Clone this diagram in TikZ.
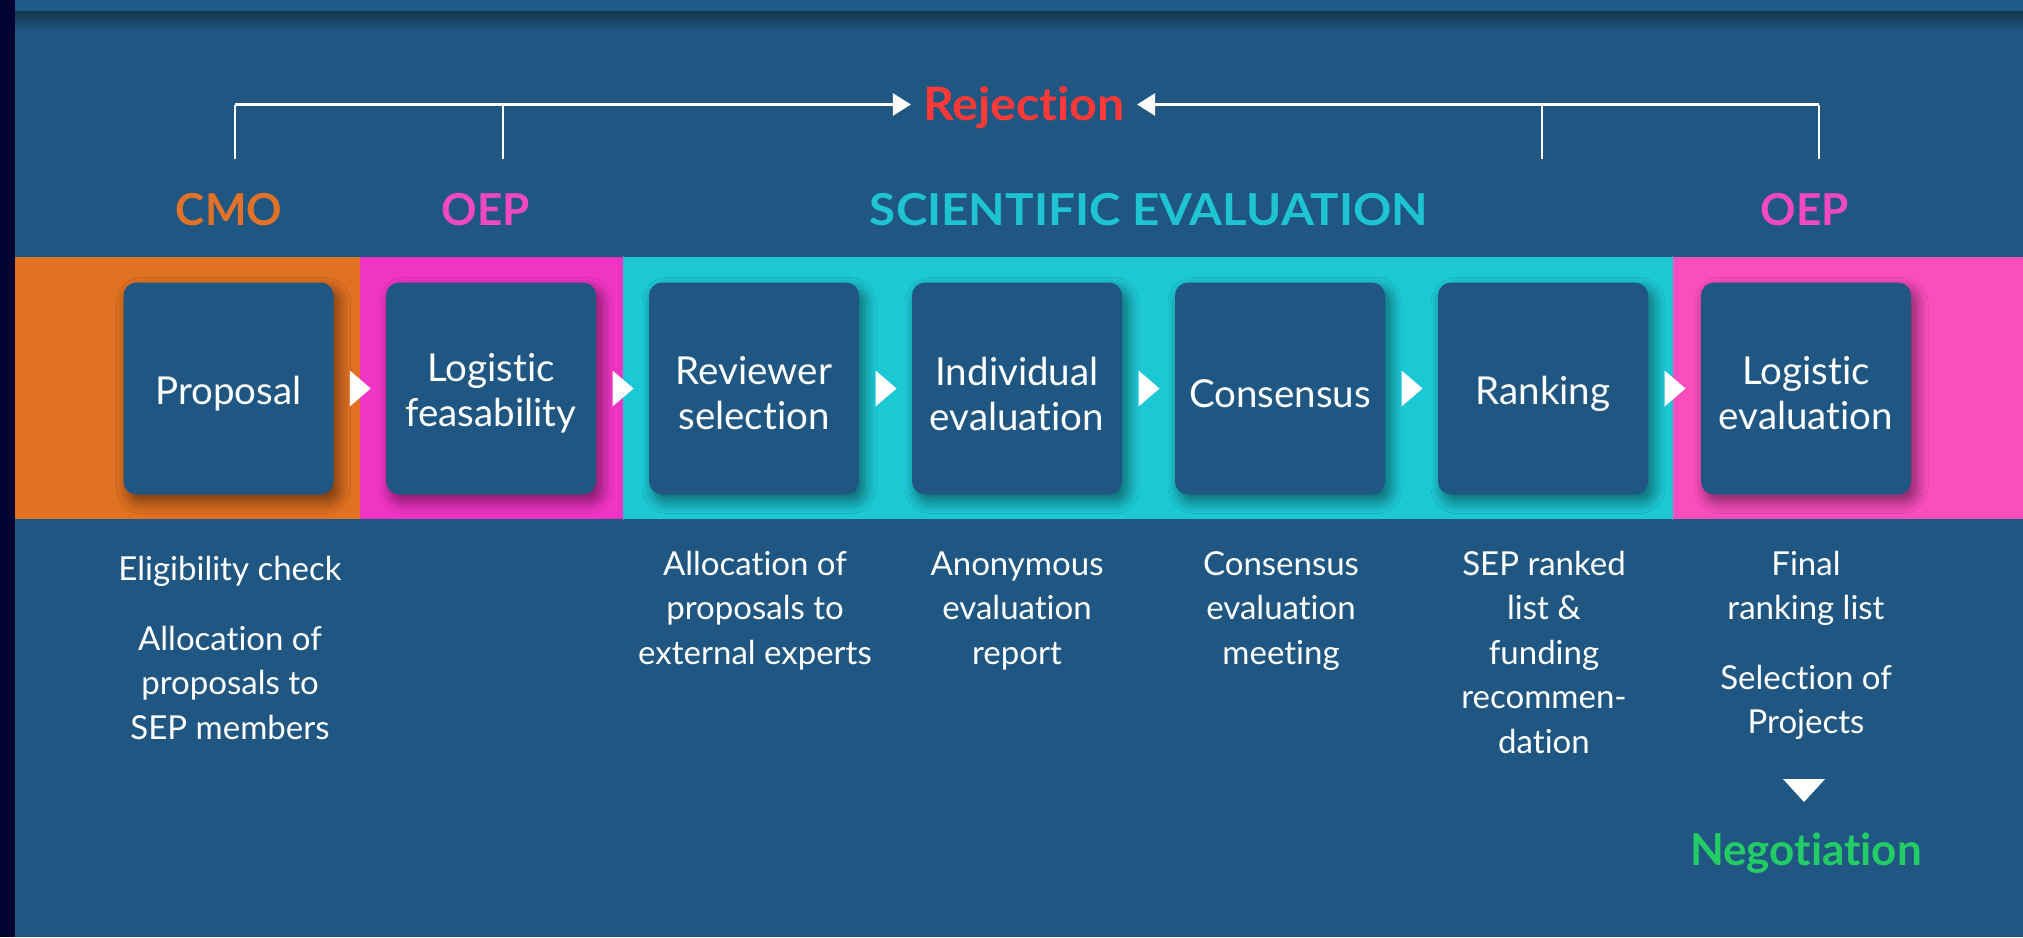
\documentclass[tikz,border=0pt]{standalone}
\usepackage{fontspec}
\setmainfont{Lato}[Ligatures=NoCommon]
\usetikzlibrary{arrows.meta,calc,shadows.blur}
\definecolor{bgblue}{RGB}{31,87,130}
\definecolor{topblue}{RGB}{33,91,137}
\definecolor{leftnavy}{RGB}{2,2,50}
\definecolor{bandorange}{RGB}{224,112,34}
\definecolor{bandpink}{RGB}{240,52,195}
\definecolor{bandpinkb}{RGB}{250,78,190}
\definecolor{bandcyan}{RGB}{28,200,212}
\definecolor{hdorange}{RGB}{226,114,40}
\definecolor{hdpink}{RGB}{242,72,192}
\definecolor{hdcyan}{RGB}{30,196,210}
\definecolor{rejred}{RGB}{255,56,56}
\definecolor{neggreen}{RGB}{36,204,102}
\begin{document}
\begin{tikzpicture}[x=1pt,y=-1pt,
  stepbox/.style={rounded corners=13pt, fill=bgblue, minimum width=210pt, minimum height=212pt,
    inner sep=0pt,
    blur shadow={shadow xshift=5pt, shadow yshift=-7pt, shadow blur radius=12pt,
      shadow blur steps=12, shadow opacity=50}},
  steplabel/.style={text=white, align=center, font=\fontsize{38.5}{45}\selectfont, inner sep=0pt},
  header/.style={anchor=base, font=\bfseries\fontsize{44}{52}\selectfont, inner sep=0pt},
  note/.style={anchor=base, align=center, text=white, font=\fontsize{33}{44.5}\selectfont, inner sep=0pt},
  chevron/.style={fill=white},
  rejline/.style={draw=white, line width=1.8pt},
  rejhline/.style={draw=white, line width=2.8pt, -{Triangle[length=18pt,width=22pt]}},
]
\useasboundingbox (0,0) rectangle (2023,937);
% background
\fill[bgblue] (0,0) rectangle (2023,937);
\fill[topblue] (15,0) rectangle (2023,11);
\shade[top color=black!40!bgblue, bottom color=bgblue] (15,11) rectangle (2023,30);
\fill[leftnavy] (0,0) rectangle (15,937);
% colour band
\fill[bandorange] (15,257) rectangle (360,519);
\fill[bandpink] (360,257) rectangle (623,519);
\fill[bandcyan] (623,257) rectangle (1673,519);
\fill[bandpinkb] (1673,257) rectangle (2023,519);
% steps
\node[stepbox] (b1) at (228.5,388.5) {};
\node[stepbox] (b2) at (491,388.5) {};
\node[stepbox] (b3) at (754,388.5) {};
\node[stepbox] (b4) at (1017,388.5) {};
\node[stepbox] (b5) at (1280,388.5) {};
\node[stepbox] (b6) at (1543,388.5) {};
\node[stepbox] (b7) at (1806,388.5) {};
\node[steplabel] (l1) at ($(b1.center)+(0,5)$) {Proposal};
\node[steplabel] (l2) at ($(b2.center)+(0,5)$) {Logistic\\feasability};
\node[steplabel] (l3) at ($(b3.center)+(0,5)$) {Reviewer\\selection};
\node[steplabel] (l4) at ($(b4.center)+(0,5)$) {Individual\\evaluation};
\node[steplabel] (l5) at ($(b5.center)+(0,5)$) {Consensus};
\node[steplabel] (l6) at ($(b6.center)+(0,5)$) {Ranking};
\node[steplabel] (l7) at ($(b7.center)+(0,5)$) {Logistic\\evaluation};
\foreach \a/\b [count=\i] in {b1/b2,b2/b3,b3/b4,b4/b5,b5/b6,b6/b7} {
  \coordinate (t\i) at ($(\a.east)!0.5!(\b.west)$);
  \fill[chevron] ($(t\i)+(-10,-18)$) -- ($(t\i)+(11,0)$) -- ($(t\i)+(-10,18)$) -- cycle;
}
% headers
\node[header, text=hdorange] (hcmo) at (229,225) {CMO};
\node[header, text=hdpink] (hoep1) at (486,225) {OEP};
\node[header, text=hdcyan] (hsci) at (1149,225) {\scalebox{1.08}[1]{SCIENTIFIC EVALUATION}};
\node[header, text=hdpink] (hoep2) at (1805,225) {OEP};
% rejection
\node[font=\bfseries\fontsize{46}{52}\selectfont, text=rejred, text height=31pt, text depth=0pt,
  inner xsep=12pt, inner ysep=0pt] (rej) at (1024,104.5) {\scalebox{1.05}[1]{Rejection}};
\coordinate (r1) at (235,159);
\coordinate (r2) at (503,159);
\coordinate (r3) at (1542,159);
\coordinate (r4) at (1819,159);
\draw[rejline] (r1) -- (r1 |- rej.west);
\draw[rejline] (r2) -- (r2 |- rej.west);
\draw[rejline] (r3) -- (r3 |- rej.east);
\draw[rejline] (r4) -- (r4 |- rej.east);
\draw[rejhline] (r1 |- rej.west) -- (rej.west);
\draw[rejhline] (r4 |- rej.east) -- (rej.east);
% notes (anchor = baseline of last line)
\node[note] (n1a) at (230,580) {Eligibility check};
\node[note] (n1b) at (230,739) {Allocation of\\proposals to\\SEP members};
\node[note] (n3) at (755,664) {Allocation of\\proposals to\\external experts};
\node[note] (n4) at (1017,664) {Anonymous\\evaluation\\report};
\node[note] (n5) at (1281,664) {Consensus\\evaluation\\meeting};
\node[note] (n6) at (1544,753) {SEP ranked\\list \&\\funding\\recommen-\\dation};
\node[note] (n7a) at (1806,619.5) {Final\\ranking list};
\node[note] (n7b) at (1806,733.5) {Selection of\\Projects};
\coordinate (dt) at (1804,790);
\fill[white] ($(dt)+(-21,-11)$) -- ($(dt)+(21,-11)$) -- ($(dt)+(0,12)$) -- cycle;
\node[header, text=neggreen] (neg) at (1806,865) {Negotiation};
\end{tikzpicture}
\end{document}
